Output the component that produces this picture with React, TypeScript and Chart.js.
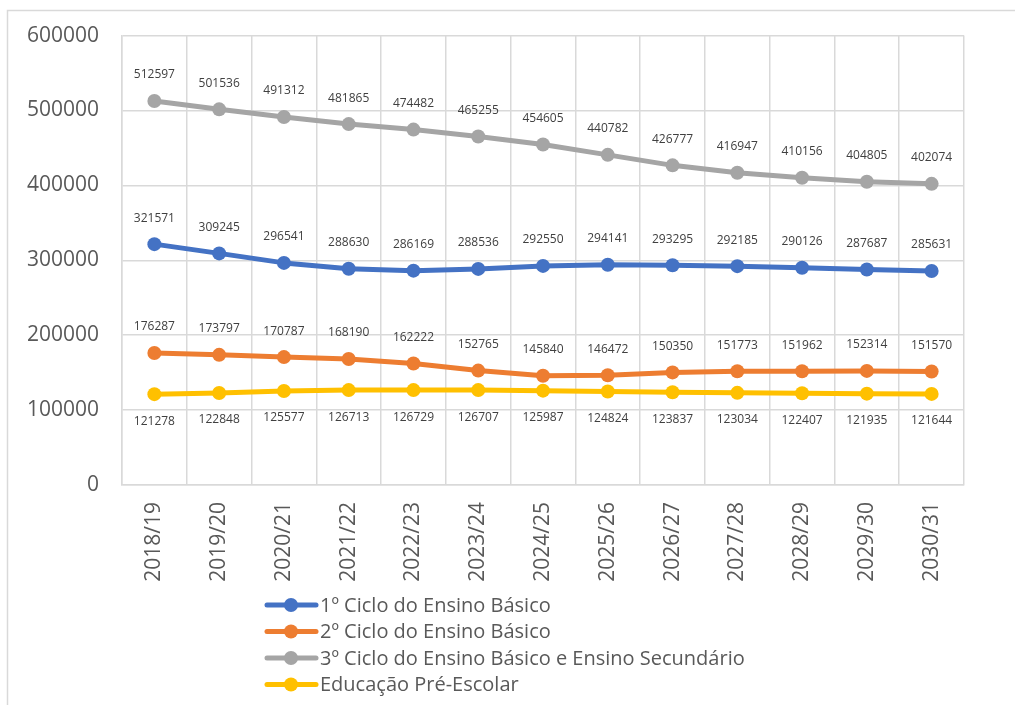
import React, { useEffect, useRef } from "react";
import { Chart, registerables } from "chart.js";

Chart.register(...registerables);

const categories = ["2018/19", "2019/20", "2020/21", "2021/22", "2022/23", "2023/24", "2024/25", "2025/26", "2026/27", "2027/28", "2028/29", "2029/30", "2030/31"];
const ciclo1 = [321571, 309245, 296541, 288630, 286169, 288536, 292550, 294141, 293295, 292185, 290126, 287687, 285631];
const ciclo2 = [176287, 173797, 170787, 168190, 162222, 152765, 145840, 146472, 150350, 151773, 151962, 152314, 151570];
const ciclo3 = [512597, 501536, 491312, 481865, 474482, 465255, 454605, 440782, 426777, 416947, 410156, 404805, 402074];
const preEscolar = [121278, 122848, 125577, 126713, 126729, 126707, 125987, 124824, 123837, 123034, 122407, 121935, 121644];
const seriesLabels = ["1º Ciclo do Ensino Básico", "2º Ciclo do Ensino Básico", "3º Ciclo do Ensino Básico e Ensino Secundário", "Educação Pré-Escolar"];
const seriesColors = ["#4472C4", "#ED7D31", "#A5A5A5", "#FFC000"];
const labelPlacement = ["above", "above", "above", "below"];
const yMin = 0;
const yMax = 600000;
const yStep = 100000;

const FONT = "'Open Sans', 'DejaVu Sans', sans-serif";
const GRID = "#D9D9D9";

const framePlugin = {
  id: "frame",
  beforeDraw(chart: any) {
    const ctx = chart.ctx;
    ctx.save();
    ctx.fillStyle = "#FFFFFF";
    ctx.fillRect(0, 0, chart.width, chart.height);
    ctx.strokeStyle = GRID;
    ctx.lineWidth = 1.5;
    ctx.beginPath();
    ctx.moveTo(7.5, chart.height);
    ctx.lineTo(7.5, 10.5);
    ctx.lineTo(chart.width, 10.5);
    ctx.stroke();
    ctx.restore();
  },
};

const dataLabelPlugin = {
  id: "dataLabels",
  afterDatasetsDraw(chart: any) {
    const ctx = chart.ctx;
    ctx.save();
    ctx.font = `12px ${FONT}`;
    ctx.fillStyle = "#404040";
    ctx.textAlign = "center";
    ctx.textBaseline = "middle";
    chart.data.datasets.forEach((ds: any, di: number) => {
      const meta = chart.getDatasetMeta(di);
      meta.data.forEach((pt: any, i: number) => {
        const dy = labelPlacement[di] === "below" ? 27 : -26;
        ctx.fillText(String(ds.data[i]), pt.x, pt.y + dy);
      });
    });
    ctx.restore();
  },
};

const legendPlugin = {
  id: "customLegend",
  afterDraw(chart: any) {
    const ctx = chart.ctx;
    ctx.save();
    const x0 = 265;
    const y0 = 605;
    const rowH = 26.5;
    chart.data.datasets.forEach((ds: any, i: number) => {
      const y = y0 + i * rowH;
      ctx.strokeStyle = ds.borderColor;
      ctx.lineWidth = 5;
      ctx.lineCap = "round";
      ctx.beginPath();
      ctx.moveTo(x0 + 2, y);
      ctx.lineTo(x0 + 51, y);
      ctx.stroke();
      ctx.fillStyle = ds.borderColor;
      ctx.beginPath();
      ctx.arc(x0 + 26, y, 7, 0, Math.PI * 2);
      ctx.fill();
      ctx.fillStyle = "#595959";
      ctx.font = `20px ${FONT}`;
      ctx.textAlign = "left";
      ctx.textBaseline = "middle";
      ctx.fillText(ds.label, x0 + 55, y + 1);
    });
    ctx.restore();
  },
};

export default function App() {
  const ref = useRef<HTMLCanvasElement>(null);
  useEffect(() => {
    document.body.style.margin = "0";
    const series = [ciclo1, ciclo2, ciclo3, preEscolar];
    const chart = new Chart(ref.current as HTMLCanvasElement, {
      type: "line",
      data: {
        labels: categories,
        datasets: series.map((d, i) => ({
          label: seriesLabels[i],
          data: d,
          borderColor: seriesColors[i],
          backgroundColor: seriesColors[i],
          pointBackgroundColor: seriesColors[i],
          pointBorderColor: seriesColors[i],
          borderWidth: 5,
          pointRadius: 7,
          pointBorderWidth: 0,
          tension: 0,
          borderCapStyle: "round",
          borderJoinStyle: "round",
          fill: false,
        })),
      },
      options: {
        responsive: false,
        animation: false,
        layout: { padding: { left: 0, right: 51, top: 34, bottom: 0 } },
        plugins: { legend: { display: false }, tooltip: { enabled: false } },
        scales: {
          x: {
            offset: true,
            grid: { offset: true, color: GRID, lineWidth: 1.5, drawTicks: false },
            border: { color: GRID, width: 1.5 },
            ticks: {
              color: "#595959",
              font: { family: FONT, size: 21 },
              minRotation: 90,
              maxRotation: 90,
              padding: 17,
              autoSkip: false,
            },
            afterFit: (s: any) => {
              s.height = 220;
            },
          },
          y: {
            min: yMin,
            max: yMax,
            grid: { color: GRID, lineWidth: 1.5, drawTicks: false },
            border: { color: GRID, width: 1.5 },
            ticks: {
              stepSize: yStep,
              color: "#595959",
              font: { family: FONT, size: 21 },
              padding: 23,
              callback: (v: any) => String(v),
            },
            afterFit: (s: any) => {
              s.width = 122;
            },
          },
        },
      },
      plugins: [framePlugin, dataLabelPlugin, legendPlugin],
    });
    return () => chart.destroy();
  }, []);
  return (
    <div style={{ width: 1015, height: 705 }}>
      <canvas ref={ref} width={1015} height={705} style={{ display: "block" }} />
    </div>
  );
}
